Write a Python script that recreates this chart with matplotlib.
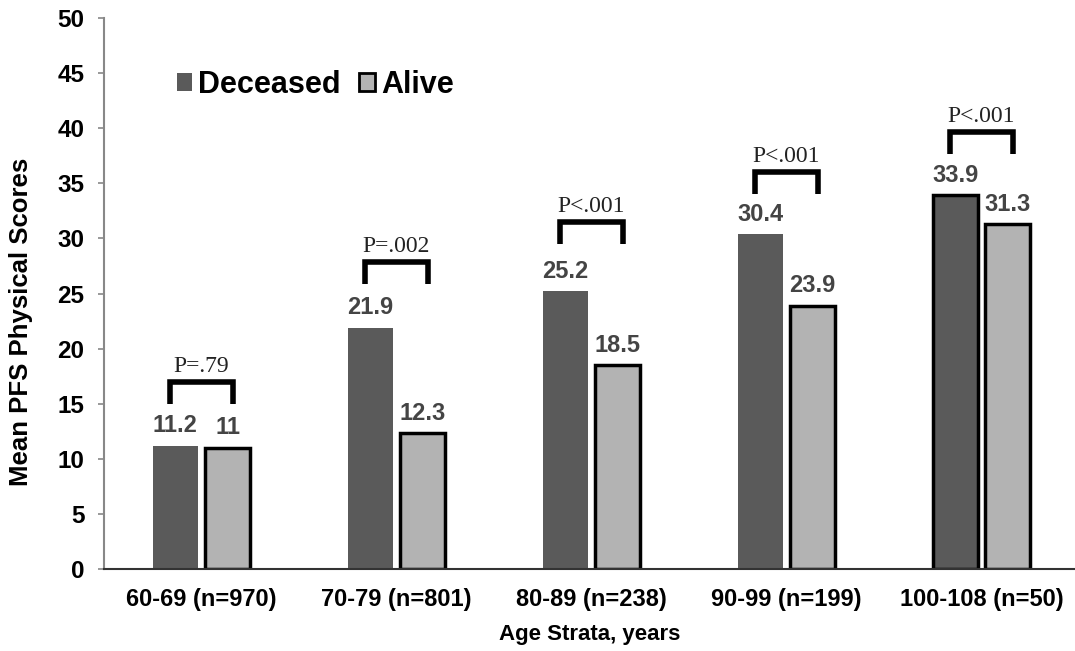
import matplotlib
matplotlib.use("Agg")
import matplotlib.pyplot as plt
import numpy as np
from matplotlib.patches import Patch

categories = ["60-69 (n=970)", "70-79 (n=801)", "80-89 (n=238)", "90-99 (n=199)", "100-108 (n=50)"]
deceased = [11.2, 21.9, 25.2, 30.4, 33.9]
alive = [11.0, 12.3, 18.5, 23.9, 31.3]
deceased_labels = ["11.2", "21.9", "25.2", "30.4", "33.9"]
alive_labels = ["11", "12.3", "18.5", "23.9", "31.3"]
p_texts = ["P=.79", "P=.002", "P<.001", "P<.001", "P<.001"]
bracket_tops = [17.0, 27.9, 31.5, 36.0, 39.7]
yticks = [0, 5, 10, 15, 20, 25, 30, 35, 40, 45, 50]

plt.rcParams['font.family'] = ['Liberation Sans', 'DejaVu Sans']

W, H = 1075, 651
fig = plt.figure(figsize=(W / 100, H / 100), dpi=100)
ax = fig.add_axes([104 / W, (H - 569) / H, 975 / W, 551 / H])

x = np.arange(len(categories))
off = 0.134
bw = 0.232
dec_edges = ["none", "none", "none", "none", "black"]

dark = "#5a5a5a"
light = "#b3b3b3"

for i in range(len(categories)):
    ax.bar(x[i] - off, deceased[i], bw, color=dark,
           edgecolor=dec_edges[i], linewidth=2.5 if dec_edges[i] != "none" else 0, zorder=3)
    ax.bar(x[i] + off, alive[i], bw, color=light, edgecolor="black", linewidth=2.5, zorder=3)
    ax.annotate(deceased_labels[i], (x[i] - off, deceased[i]), xytext=(0, 6),
                textcoords="offset points", ha="center", va="bottom",
                fontsize=17, fontweight="bold", color="#444444")
    ax.annotate(alive_labels[i], (x[i] + off, alive[i]), xytext=(0, 6),
                textcoords="offset points", ha="center", va="bottom",
                fontsize=17, fontweight="bold", color="#444444")
    # bracket
    bt = bracket_tops[i]
    bl = bt - 2.0
    bx0, bx1 = x[i] - 0.163, x[i] + 0.163
    ax.plot([bx0, bx0, bx1, bx1], [bl, bt, bt, bl], color="black", lw=4,
            solid_joinstyle="miter", solid_capstyle="butt", zorder=4)
    ax.text(x[i], bt + 0.45, p_texts[i], ha="center", va="bottom",
            fontsize=17, family=["Liberation Serif", "DejaVu Serif"], color="#222222")

ax.set_xlim(-0.5, len(categories) - 0.5)
ax.set_ylim(0, 50)
ax.set_yticks(yticks)
ax.set_yticklabels([str(t) for t in yticks], fontsize=17.5, fontweight="bold")
ax.set_xticks(x)
ax.set_xticklabels(categories, fontsize=17, fontweight="bold")
ax.tick_params(axis="x", length=0, pad=14)
ax.tick_params(axis="y", length=4, width=1.2, color="#888888", pad=10, direction="out")

for s in ["top", "right"]:
    ax.spines[s].set_visible(False)
ax.spines["left"].set_color("#888888")
ax.spines["left"].set_linewidth(1.5)
ax.spines["bottom"].set_color("#333333")
ax.spines["bottom"].set_linewidth(1.5)
ax.spines["bottom"].set_zorder(5)

ax.set_ylabel("Mean PFS Physical Scores", fontsize=18.5, fontweight="bold")
ax.yaxis.set_label_coords(-71 / 975, (569 - 322) / 551)
ax.set_xlabel("Age Strata, years", fontsize=16, fontweight="bold")
ax.xaxis.set_label_coords((590 - 104) / 975, -(624 - 569) / 551)

handles = [Patch(facecolor=dark, edgecolor="none", label="Deceased"),
           Patch(facecolor=light, edgecolor="black", linewidth=2, label="Alive")]
leg = ax.legend(handles=handles, loc="center left", bbox_to_anchor=(73 / 975, (569 - 85) / 551),
                ncol=2, frameon=False, handlelength=0.5, handleheight=0.5,
                handletextpad=0.2, columnspacing=0.6, borderpad=0, borderaxespad=0,
                prop={"weight": "bold", "size": 22})

fig.savefig("out.png", dpi=100)
